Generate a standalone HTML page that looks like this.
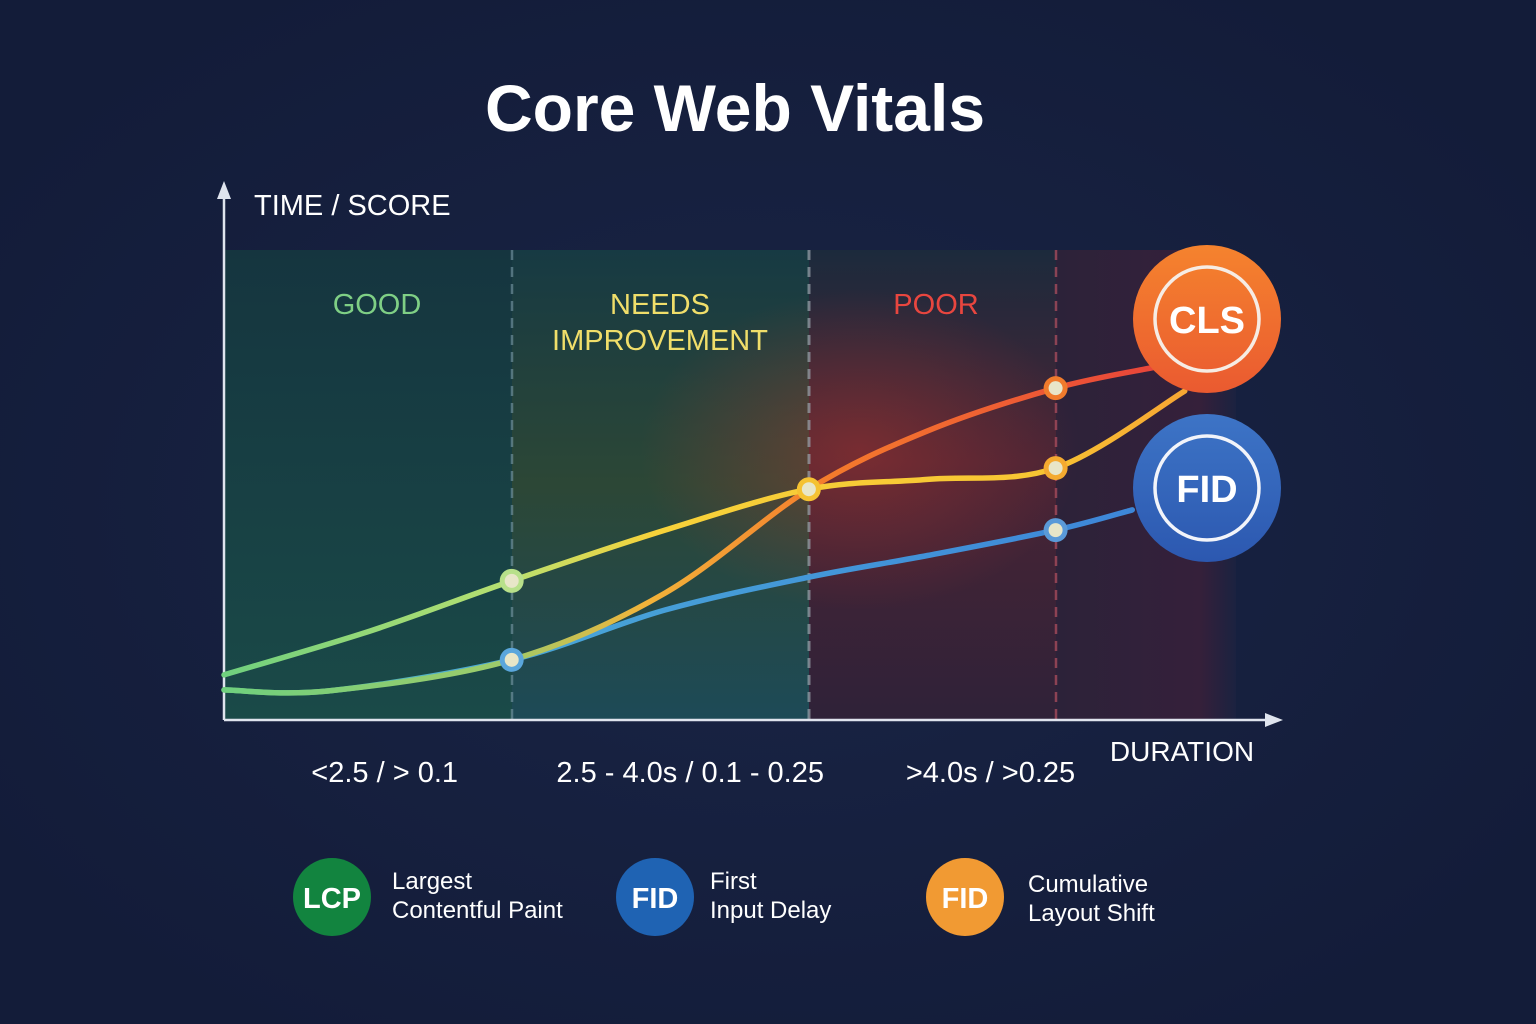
<!DOCTYPE html>
<html><head><meta charset="utf-8"><style>
html,body{margin:0;padding:0;width:1536px;height:1024px;overflow:hidden;background:#15203f;}
svg text{font-family:"Liberation Sans",sans-serif;}
</style></head><body>
<svg id="chart" width="1536" height="1024" viewBox="0 0 1536 1024" xmlns="http://www.w3.org/2000/svg">
<defs>
<radialGradient id="bgGlow" cx="50%" cy="50%" r="60%"><stop offset="0" stop-color="#1a2546"/><stop offset="1" stop-color="#131c39"/></radialGradient>
<linearGradient id="zGood" x1="0" y1="0" x2="0" y2="1"><stop offset="0" stop-color="#15353f"/><stop offset="1" stop-color="#1a4a48"/></linearGradient>
<linearGradient id="zNeeds" x1="0" y1="0" x2="0" y2="1"><stop offset="0" stop-color="#173a43"/><stop offset="0.5" stop-color="#2c4736"/><stop offset="1" stop-color="#1d4a57"/></linearGradient>
<linearGradient id="zPoor" x1="0" y1="0" x2="0" y2="1"><stop offset="0" stop-color="#1c2a3c"/><stop offset="0.45" stop-color="#4a2435"/><stop offset="1" stop-color="#2f2238"/></linearGradient>
<linearGradient id="zBad" x1="0" y1="0" x2="1" y2="0"><stop offset="0" stop-color="#2c2239"/><stop offset="0.8" stop-color="#35203a"/><stop offset="1" stop-color="#1b2240"/></linearGradient>
<radialGradient id="redGlow" cx="0.5" cy="0.5" r="0.5"><stop offset="0" stop-color="#c0392b" stop-opacity="0.4"/><stop offset="1" stop-color="#c0392b" stop-opacity="0"/></radialGradient>
<linearGradient id="gLCP" gradientUnits="userSpaceOnUse" x1="224" y1="0" x2="1180" y2="0"><stop offset="0" stop-color="#6fd07e"/><stop offset="0.3" stop-color="#b9e070"/><stop offset="0.45" stop-color="#f7d23a"/><stop offset="0.85" stop-color="#f7c533"/><stop offset="1" stop-color="#f7a733"/></linearGradient>
<linearGradient id="gCLS" gradientUnits="userSpaceOnUse" x1="224" y1="0" x2="1160" y2="0"><stop offset="0" stop-color="#6fd07e"/><stop offset="0.3" stop-color="#9ecb6a"/><stop offset="0.45" stop-color="#f2b43a"/><stop offset="0.65" stop-color="#f47a2c"/><stop offset="1" stop-color="#e8443a"/></linearGradient>
<linearGradient id="gFID" gradientUnits="userSpaceOnUse" x1="224" y1="0" x2="1140" y2="0"><stop offset="0" stop-color="#6fd07e"/><stop offset="0.28" stop-color="#4aa8d8"/><stop offset="1" stop-color="#3d86d8"/></linearGradient>
<linearGradient id="clsBadge" x1="0" y1="0" x2="0" y2="1"><stop offset="0" stop-color="#f5832e"/><stop offset="1" stop-color="#ea5a30"/></linearGradient>
<linearGradient id="fidBadge" x1="0" y1="0" x2="0" y2="1"><stop offset="0" stop-color="#3d74c6"/><stop offset="1" stop-color="#2c58b0"/></linearGradient>
</defs>
<rect width="1536" height="1024" fill="url(#bgGlow)"/>
<text x="735" y="131" text-anchor="middle" font-size="66" font-weight="bold" fill="#ffffff">Core Web Vitals</text>

<g id="zones">
<rect x="224" y="250" width="288" height="470" fill="url(#zGood)"/>
<rect x="512" y="250" width="297" height="470" fill="url(#zNeeds)"/>
<rect x="809" y="250" width="247" height="470" fill="url(#zPoor)"/>
<rect x="1056" y="250" width="180" height="470" fill="url(#zBad)"/>
<ellipse cx="860" cy="450" rx="220" ry="160" fill="url(#redGlow)"/>
</g>
<g>
<line x1="512" y1="250" x2="512" y2="720" stroke="#7a9aa8" stroke-width="2.5" stroke-dasharray="10 7" opacity="0.6"/>
<line x1="809" y1="250" x2="809" y2="720" stroke="#9aa3ac" stroke-width="3" stroke-dasharray="10 7" opacity="0.7"/>
<line x1="1056" y1="250" x2="1056" y2="720" stroke="#b45060" stroke-width="2.5" stroke-dasharray="10 7" opacity="0.7"/>
</g>
<text x="377" y="314" text-anchor="middle" font-size="29" fill="#7fcf85">GOOD</text>
<text x="660" y="314" text-anchor="middle" font-size="29" fill="#f0de6a">NEEDS</text>
<text x="660" y="350" text-anchor="middle" font-size="29" fill="#f0de6a">IMPROVEMENT</text>
<text x="936" y="314" text-anchor="middle" font-size="29" fill="#e8463f">POOR</text>

<g id="axes">
<line x1="224" y1="720" x2="224" y2="192" stroke="#dfe4ee" stroke-width="2.5"/>
<polygon points="224,181 217,199 231,199" fill="#dfe4ee"/>
<line x1="224" y1="720" x2="1270" y2="720" stroke="#dfe4ee" stroke-width="2.5"/>
<polygon points="1283,720 1265,713 1265,727" fill="#dfe4ee"/>
<text x="254" y="215" font-size="29" fill="#ffffff">TIME / SCORE</text>
<text x="1182" y="761" text-anchor="middle" font-size="28" fill="#ffffff">DURATION</text>
</g>
<g id="ticks"></g>
<g id="series"></g>
<g id="points"></g>

<g>
<circle cx="1207" cy="319" r="74" fill="url(#clsBadge)"/>
<circle cx="1207" cy="319" r="52" fill="none" stroke="#f6ece4" stroke-width="3.5"/>
<text x="1207" y="333" text-anchor="middle" font-size="38" font-weight="bold" fill="#ffffff">CLS</text>
</g>
<g>
<circle cx="1207" cy="488" r="74" fill="url(#fidBadge)"/>
<circle cx="1207" cy="488" r="52" fill="none" stroke="#f2f4fa" stroke-width="3.5"/>
<text x="1207" y="502" text-anchor="middle" font-size="38" font-weight="bold" fill="#ffffff">FID</text>
</g>

<g>
<g>
<circle cx="332" cy="897" r="39" fill="#12843f"/>
<text x="332" y="908" text-anchor="middle" font-size="29" font-weight="bold" fill="#fff">LCP</text>
<text x="392" y="889" font-size="24" fill="#fff">Largest</text>
<text x="392" y="918" font-size="24" fill="#fff">Contentful Paint</text>
</g>
<g>
<circle cx="655" cy="897" r="39" fill="#1f63b3"/>
<text x="655" y="908" text-anchor="middle" font-size="29" font-weight="bold" fill="#fff">FID</text>
<text x="710" y="889" font-size="24" fill="#fff">First</text>
<text x="710" y="918" font-size="24" fill="#fff">Input Delay</text>
</g>
<g>
<circle cx="965" cy="897" r="39" fill="#f19a33"/>
<text x="965" y="908" text-anchor="middle" font-size="29" font-weight="bold" fill="#fff">FID</text>
<text x="1028" y="892" font-size="24" fill="#fff">Cumulative</text>
<text x="1028" y="921" font-size="24" fill="#fff">Layout Shift</text>
</g>
</g>
</svg>
<script>
const tickLabels = ["<2.5 / > 0.1", "2.5 - 4.0s / 0.1 - 0.25", ">4.0s / >0.25"];
const tickPositions = [1.53, 4.44, 7.3];
const lcpX = [0, 1.4, 2.74, 4.2, 5.57, 6.7, 7.92, 9.15];
const lcpY = [9.6, 19.0, 29.6, 40.4, 49.1, 51.2, 53.6, 70.0];
const clsX = [0, 1.0, 2.74, 4.2, 5.57, 6.7, 7.92, 8.85];
const clsY = [6.4, 6.2, 12.8, 27.0, 49.1, 61.5, 70.6, 75.0];
const fidX = [0, 1.0, 2.74, 4.2, 5.57, 6.7, 7.92, 8.65];
const fidY = [6.4, 6.2, 12.8, 23.4, 30.4, 35.0, 40.4, 44.7];

const NS = "http://www.w3.org/2000/svg";
function xs(v){ return 224 + v * 105; }
function ys(v){ return 720 - v * 4.7; }

const tg = document.getElementById('ticks');
tickLabels.forEach((t, i) => {
  const el = document.createElementNS(NS, 'text');
  el.setAttribute('x', xs(tickPositions[i]));
  el.setAttribute('y', 782);
  el.setAttribute('text-anchor', 'middle');
  el.setAttribute('font-size', '29');
  el.setAttribute('fill', '#ffffff');
  el.textContent = t;
  
  
  tg.appendChild(el);
});

function pathFor(X, Y){
  const p = X.map((x, i) => [xs(x), ys(Y[i])]);
  let d = 'M' + p[0][0] + ',' + p[0][1];
  for (let i = 0; i < p.length - 1; i++) {
    const p0 = p[i-1] || p[i], p1 = p[i], p2 = p[i+1], p3 = p[i+2] || p[i+1];
    const c1x = p1[0] + (p2[0]-p0[0])/6, c1y = p1[1] + (p2[1]-p0[1])/6;
    const c2x = p2[0] - (p3[0]-p1[0])/6, c2y = p2[1] - (p3[1]-p1[1])/6;
    d += ' C' + c1x + ',' + c1y + ' ' + c2x + ',' + c2y + ' ' + p2[0] + ',' + p2[1];
  }
  return d;
}
const sg = document.getElementById('series');
const series = [
  {name:'line-fid', X:fidX, Y:fidY, s:'url(#gFID)'},
  {name:'line-cls', X:clsX, Y:clsY, s:'url(#gCLS)'},
  {name:'line-lcp', X:lcpX, Y:lcpY, s:'url(#gLCP)'}
];
series.forEach(sr => {
  const el = document.createElementNS(NS, 'path');
  el.setAttribute('d', pathFor(sr.X, sr.Y));
  el.setAttribute('fill', 'none');
  el.setAttribute('stroke', sr.s);
  el.setAttribute('stroke-width', '5.5');
  el.setAttribute('stroke-linecap', 'round');
  
  
  sg.appendChild(el);
});

const pg = document.getElementById('points');
function dot(x, y, ring, name){
  const c = document.createElementNS(NS, 'circle');
  c.setAttribute('cx', xs(x)); c.setAttribute('cy', ys(y)); c.setAttribute('r', 12);
  c.setAttribute('fill', ring);
  
  
  pg.appendChild(c);
  const c2 = document.createElementNS(NS, 'circle');
  c2.setAttribute('cx', xs(x)); c2.setAttribute('cy', ys(y)); c2.setAttribute('r', 7);
  c2.setAttribute('fill', '#e8e6c8');
  
  
  pg.appendChild(c2);
}
dot(lcpX[2], lcpY[2], '#b8e08a', 'point-lcp-good');
dot(fidX[2], fidY[2], '#5aa6dc', 'point-fid-good');
dot(lcpX[4], lcpY[4], '#f5c232', 'point-lcp-needs');
dot(clsX[6], clsY[6], '#f07b2c', 'point-cls-poor');
dot(lcpX[6], lcpY[6], '#f4aa30', 'point-lcp-poor');
dot(fidX[6], fidY[6], '#5a9ad8', 'point-fid-poor');
</script>
</body></html>
